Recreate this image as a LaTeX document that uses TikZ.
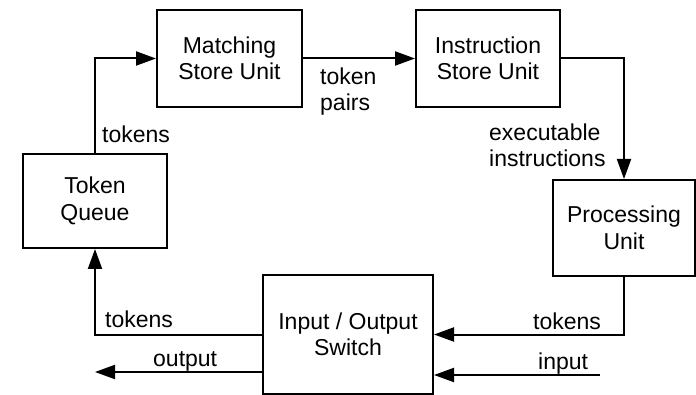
\documentclass[tikz,border=0pt]{standalone}
\usepackage{fontspec}
\setmainfont{Liberation Sans}
\usetikzlibrary{arrows.meta,calc}
\begin{document}
\begin{tikzpicture}[x=1pt,y=-1pt,
  box/.style={draw,line width=2pt,inner sep=0pt,align=center,font=\fontsize{23}{26.5}\selectfont},
  lbl/.style={inner sep=0pt,align=left,anchor=base west,font=\fontsize{23}{26}\selectfont},
  arr/.style={line width=2pt,-{Triangle[length=20pt,width=14pt]}},
  ln/.style={line width=2pt}]
\useasboundingbox (0,0) rectangle (696,395);
\node[box,minimum width=145pt,minimum height=97pt] (ms) at (229.5,58.5) {Matching\\Store Unit};
\node[box,minimum width=144pt,minimum height=97pt] (is) at (488,58.5) {Instruction\\Store Unit};
\node[box,minimum width=144pt,minimum height=94pt] (tq) at (95,201) {Token\\Queue};
\node[box,minimum width=142pt,minimum height=96pt] (pu) at (624,228) {Processing\\Unit};
\node[box,minimum width=170pt,minimum height=119pt] (io) at (348,334.5) {Input / Output\\Switch};
\coordinate (in) at (600,375);
\coordinate (out) at (95,372);
\draw[arr] (tq.north) |- (ms.west);
\draw[arr] (ms.east) -- (is.west);
\draw[arr] (is.east) -| (pu.north);
\draw[arr] (pu.south) |- (io.east);
\draw[arr] (in) -- (in -| io.east);
\draw[arr] (io.west) -| (tq.south);
\draw[arr] (io.west |- out) -- (out);
\node[lbl] (l1) at (102,143) {tokens};
\node[lbl] (l2) at (320,111) {token\\pairs};
\node[lbl] (l3) at (489,167) {executable\\instructions};
\node[lbl] (l4) at (105,327) {tokens};
\node[lbl] (l5) at (153,366) {output};
\node[lbl] (l6) at (533,330) {tokens};
\node[lbl] (l7) at (538,369) {input};
\end{tikzpicture}
\end{document}
